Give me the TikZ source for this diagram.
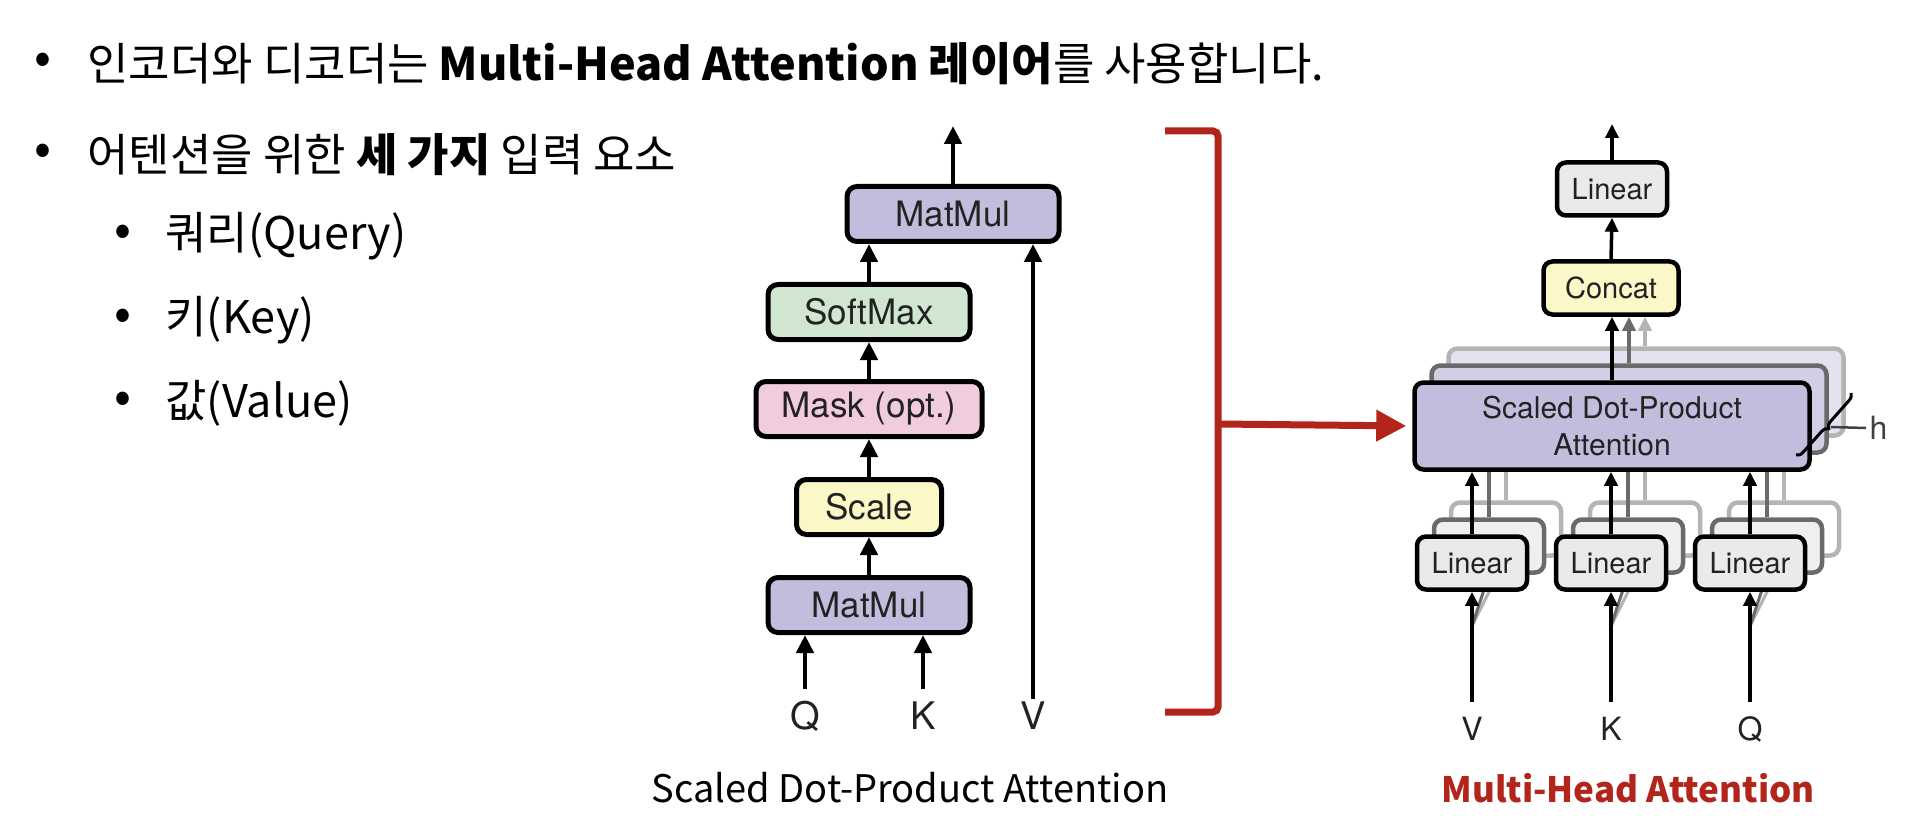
\documentclass[tikz,border=0pt]{standalone}
\usepackage{fontspec}
\setmainfont{TeX Gyre Heros}
\newfontfamily\kr{Noto Sans CJK KR}
\usetikzlibrary{arrows.meta,decorations.pathreplacing}
\definecolor{cMat}{HTML}{C2BDDC}
\definecolor{cMatB}{HTML}{D2CEE6}
\definecolor{cMatC}{HTML}{E4E1F0}
\definecolor{cSoft}{HTML}{D1E6D1}
\definecolor{cMask}{HTML}{F1CCDD}
\definecolor{cScale}{HTML}{FBF7C6}
\definecolor{cLin}{HTML}{E8EBEA}
\definecolor{cLinB}{HTML}{EEF0EF}
\definecolor{cRed}{HTML}{B2251B}
\definecolor{cTxt}{HTML}{222222}
\definecolor{gB}{HTML}{6A6A6A}
\definecolor{gC}{HTML}{B4B4B4}
\begin{document}
\begin{tikzpicture}[x=1pt,y=-1pt,
  lbox/.style={draw=black, line width=5pt, rounded corners=10pt, minimum height=55pt, text=cTxt, font=\fontsize{35}{40}\selectfont, inner sep=0pt},
  rbox/.style={draw=black, line width=4.5pt, rounded corners=9pt, minimum height=53pt, text=cTxt, font=\fontsize{29}{35}\selectfont, inner sep=0pt},
  larr/.style={line width=4.5pt, -{Triangle[length=18pt,width=17pt]}},
  rarr/.style={line width=3.5pt, -{Triangle[length=14pt,width=13pt]}},
  krA/.style={font=\kr\fontsize{45}{54}\selectfont, anchor=west},
  krB/.style={font=\kr\fontsize{45}{52}\selectfont, anchor=west},
  dot/.style={font=\kr\fontsize{50}{56}\selectfont},
  lab/.style={font=\fontsize{38}{44}\selectfont, text=cTxt},
  rlab/.style={font=\fontsize{32}{38}\selectfont, text=cTxt},
  shB/.style={rbox, draw=gB, fill=cMatB},
  shC/.style={rbox, draw=gC, fill=cMatC},
  linB/.style={rbox, draw=gB, fill=cLinB, minimum width=110pt},
  linC/.style={rbox, draw=gC, fill=white, minimum width=110pt}
]
\useasboundingbox (0,0) rectangle (1916,826);

% ---------- bullet text ----------
\node[dot] (d1) at (43,64) {•};
\node[krA] (t1) at (84,64) {인코더와 디코더는 \textbf{Multi-Head Attention 레이어}를 사용합니다.};
\node[dot] (d2) at (43,155) {•};
\node[krA] (t2) at (84,155) {어텐션을 위한 \textbf{세 가지} 입력 요소};
\node[dot] (d3) at (123,236) {•};
\node[krB] (t3) at (162,236) {쿼리(Query)};
\node[dot] (d4) at (123,320) {•};
\node[krB] (t4) at (162,320) {키(Key)};
\node[dot] (d5) at (123,403) {•};
\node[krB] (t5) at (162,403) {값(Value)};

% ---------- Scaled dot-product attention ----------
\node[lbox, fill=cMat, minimum width=212pt] (mm2) at (953,214) {MatMul};
\node[lbox, fill=cSoft, minimum width=202pt] (sm) at (869,312) {SoftMax};
\node[lbox, fill=cMask, minimum width=226pt] (mask) at (869,409) {Mask (opt.)};
\node[lbox, fill=cScale, minimum width=145pt] (sc) at (869,507) {Scale};
\node[lbox, fill=cMat, minimum width=202pt] (mm1) at (869,605) {MatMul};
\coordinate (out1) at (953,126);
\coordinate (qin) at (805,689);
\coordinate (kin) at (923,689);
\coordinate (vin) at (1033,699);
\node[lab] (ql) at (805,716) {Q};
\node[lab] (kl) at (923,716) {K};
\node[lab] (vl) at (1033,716) {V};
\draw[larr] (mm2.north) -- (out1);
\draw[larr] (sm.north) -- (sm.north |- mm2.south);
\draw[larr] (mask.north) -- (sm.south);
\draw[larr] (sc.north) -- (mask.south);
\draw[larr] (mm1.north) -- (sc.south);
\draw[larr] (qin) -- (qin |- mm1.south);
\draw[larr] (kin) -- (kin |- mm1.south);
\draw[larr] (vin) -- (vin |- mm2.south);
\node[font=\kr\fontsize{38}{44}\selectfont] (cap1) at (910,788) {Scaled Dot-Product Attention};

% ---------- red bracket ----------
\coordinate (br1) at (1165,131);
\coordinate (br2) at (1218,131);
\coordinate (br3) at (1218,712);
\coordinate (br4) at (1165,712);
\coordinate (brm) at (1218,424);
\draw[cRed, line width=7pt, rounded corners=5pt] (br1) -- (br2) -- (br3) -- (br4);

% ---------- Multi-head attention ----------
% third layer
\node[shC, minimum width=395pt, minimum height=87pt] (sdpa3) at (1646,392) {};
\node[linC] (l1c) at (1506,529) {};
\node[linC] (l2c) at (1645,529) {};
\node[linC] (l3c) at (1784,529) {};
\foreach \n in {l1c,l2c,l3c}{
  \draw[gC, line width=3.5pt] (\n.north) -- (\n.north |- sdpa3.south);
}
% second layer
\node[shB, minimum width=395pt, minimum height=87pt] (sdpa2) at (1629,409) {};
\node[linB] (l1b) at (1489,546) {};
\node[linB] (l2b) at (1628,546) {};
\node[linB] (l3b) at (1767,546) {};
\foreach \n in {l1b,l2b,l3b}{
  \draw[gB, line width=3.5pt] (\n.north) -- (\n.north |- sdpa2.south);
}
% main layer
\node[rbox, fill=cMat, minimum width=395pt, minimum height=87pt, align=center, font=\fontsize{30}{37}\selectfont] (sdpa) at (1612,426) {Scaled Dot-Product\\Attention};
\node[rbox, fill=cScale, minimum width=135pt] (concat) at (1611,288) {Concat};
\node[rbox, fill=cLin, minimum width=110pt] (lintop) at (1612,189) {Linear};
\coordinate (out2) at (1612,124);
\coordinate (g3) at (1645,0);
\coordinate (g2) at (1629,0);
\draw[rarr, draw=gC, color=gC] (g3 |- sdpa3.north) -- (g3 |- concat.south);
\draw[rarr, draw=gB, color=gB] (g2 |- sdpa2.north) -- (g2 |- concat.south);
\draw[rarr] (sdpa.north) -- (sdpa.north |- concat.south);
\draw[rarr] (concat.north) -- (lintop.south);
\draw[rarr] (lintop.north) -- (out2);

% input diagonal shadow strokes
\coordinate (vin2) at (1472,702);
\coordinate (kin2) at (1611,702);
\coordinate (qin2) at (1750,702);
\coordinate (vj) at (1472,626);
\coordinate (kj) at (1611,626);
\coordinate (qj) at (1750,626);
\draw[gC, line width=3pt] (vj) -- (l1c.south);
\draw[gC, line width=3pt] (kj) -- (l2c.south);
\draw[gC, line width=3pt] (qj) -- (l3c.south);
\draw[gB, line width=3pt] (vj) -- (l1b.south);
\draw[gB, line width=3pt] (kj) -- (l2b.south);
\draw[gB, line width=3pt] (qj) -- (l3b.south);

\node[rbox, fill=cLin, minimum width=110pt] (l1) at (1472,563) {Linear};
\node[rbox, fill=cLin, minimum width=110pt] (l2) at (1611,563) {Linear};
\node[rbox, fill=cLin, minimum width=110pt] (l3) at (1750,563) {Linear};
\draw[rarr] (l1.north) -- (l1.north |- sdpa.south);
\draw[rarr] (l2.north) -- (l2.north |- sdpa.south);
\draw[rarr] (l3.north) -- (l3.north |- sdpa.south);
\draw[rarr] (vin2) -- (l1.south);
\draw[rarr] (kin2) -- (l2.south);
\draw[rarr] (qin2) -- (l3.south);
\node[rlab] (vl2) at (1472,729) {V};
\node[rlab] (kl2) at (1611,729) {K};
\node[rlab] (ql2) at (1750,729) {Q};

% h brace
\coordinate (hb1) at (1796,455);
\coordinate (hb2) at (1851,393);
\draw[line width=3pt, decorate, decoration={brace, amplitude=7pt, mirror}] (hb1) -- (hb2);
\coordinate (hbt) at (1831,427);
\node[rlab, anchor=west, text=black!75] (h) at (1866,428) {h};
\draw[line width=2.5pt, black!75] (hbt) -- (h.west);

% red arrow into SDPA
\draw[cRed, line width=7pt, -{Triangle[length=30pt,width=30pt]}, shorten >=6pt] (brm) -- (sdpa.west);

\node[font=\kr\bfseries\fontsize{35}{42}\selectfont, text=cRed] (cap2) at (1628,788) {Multi-Head Attention};
\end{tikzpicture}
\end{document}
